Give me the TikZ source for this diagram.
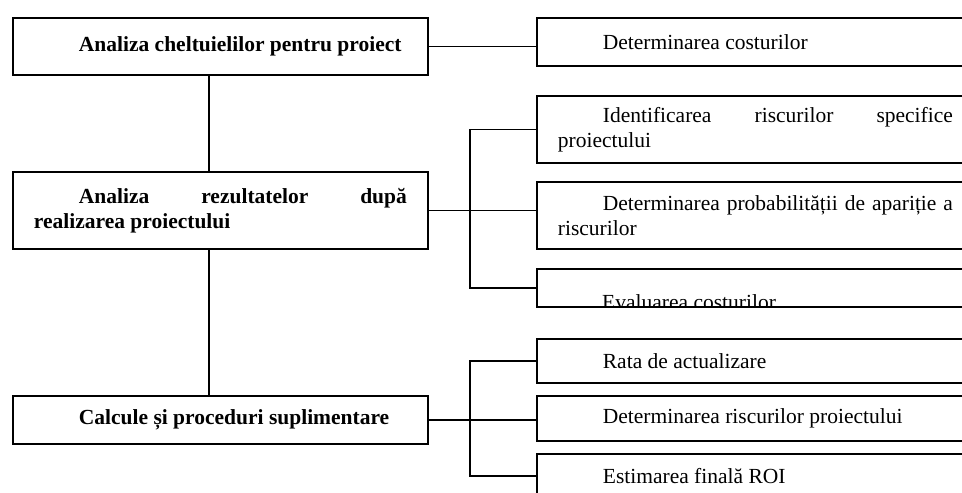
\documentclass[tikz,border=0pt]{standalone}
\usepackage{fontspec}
\setmainfont{Liberation Serif}
\usetikzlibrary{positioning,calc}
\newcommand{\boxindent}{\noindent\hspace*{45pt}}

\begin{document}
\begin{tikzpicture}[x=1pt,y=-1pt,
    every node/.style={font=\fontsize{21.5}{25}\selectfont},
    mainbox/.style={draw,line width=1.8pt,anchor=north west,text width=373pt,
                  inner xsep=21pt,inner ysep=0pt,align=justify,
                  font=\fontsize{21.5}{25}\selectfont\bfseries},
    subbox/.style={draw,line width=1.8pt,anchor=north west,text width=395pt,
                  inner xsep=21pt,inner ysep=0pt,align=justify},
    link/.style={line width=1.5pt}]
  \useasboundingbox (0,0) rectangle (962,493);
  \clip (0,0) rectangle (962,493);
  % left column
  \node[mainbox,minimum height=57pt] (cost)   at (12,17)  {\boxindent Analiza cheltuielilor pentru proiect};
  \node[mainbox,minimum height=77pt] (result) at (12,171) {\boxindent Analiza rezultatelor după\linebreak realizarea proiectului};
  \node[mainbox,minimum height=48pt] (extra)  at (12,395) {\boxindent Calcule și proceduri suplimentare};
  % right column
  \node[subbox,minimum height=48pt] (detcost)   at (536,17)  {\boxindent Determinarea costurilor};
  \node[subbox,minimum height=67pt] (identrisk) at (536,95)  {\boxindent Identificarea riscurilor specifice\linebreak proiectului};
  \node[subbox,minimum height=67pt] (probrisk)  at (536,181) {\boxindent Determinarea probabilității de apariție a\linebreak riscurilor};
  \node[subbox,minimum height=38pt] (evalcost)  at (536,268) {};
  \begin{scope}
    \clip ($(evalcost.north west)+(1,1)$) rectangle ($(evalcost.south east)+(0,-1)$);
    \node[anchor=base west,inner sep=0pt] (evaltext) at ($(evalcost.south west)+(66,2)$) {Evaluarea costurilor};
  \end{scope}
  \node[subbox,minimum height=44pt] (rate)     at (536,338) {\boxindent Rata de actualizare};
  \node[subbox,minimum height=45pt] (projrisk) at (536,395) {\boxindent Determinarea riscurilor proiectului};
  \node[subbox,minimum height=44pt] (roi)      at (536,453) {\boxindent Estimarea finală ROI};
  % connectors
  \coordinate (spine) at (209,0);
  \coordinate (fork)  at (470,0);
  \draw[link] (cost.south -| spine) -- (result.north -| spine);
  \draw[link] (result.south -| spine) -- (extra.north -| spine);
  \draw[link] (cost.east) -- (cost.east -| detcost.west);
  \draw[link] (identrisk.west) -- (identrisk.west -| fork) |- (evalcost.west);
  \draw[link] (result.east) -- (result.east -| probrisk.west);
  \draw[link] (rate.west) -- (rate.west -| fork) |- (roi.west);
  \draw[link] (extra.east) -- (extra.east -| projrisk.west);
\end{tikzpicture}
\end{document}
